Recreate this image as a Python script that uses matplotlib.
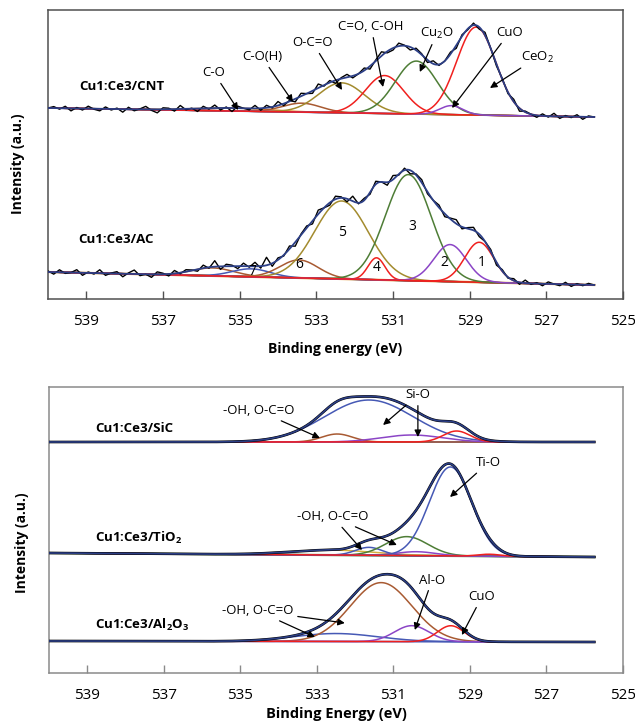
import numpy as np
import matplotlib
matplotlib.use("Agg")
import matplotlib.pyplot as plt

plt.rcParams['font.family'] = ['Open Sans', 'DejaVu Sans']
plt.rcParams['mathtext.fontset'] = 'custom'
plt.rcParams['mathtext.rm'] = 'Open Sans'
plt.rcParams['mathtext.it'] = 'Open Sans'
plt.rcParams['mathtext.bf'] = 'Open Sans:bold'

# ── Data ────────────────────────────────────────────────────────────────────────
# energies in eV, intensities in arbitrary units (stacked, offsets included)
EV_LEFT, EV_RIGHT = 540.0, 525.75
RAW_STEP = 0.15

# Cu1:Ce3/CNT
cnt_baseline = [191, 182]            # at 540 eV / at 525.75 eV
cnt_centers = [535.2, 533.38, 532.34, 531.22, 530.39, 529.48, 528.83]
cnt_heights = [3, 9, 30, 38, 53, 9, 88]
cnt_sigmas = [1.0, 0.5, 0.6, 0.5, 0.55, 0.3, 0.51]
cnt_noise = [0, 1.5, -1, 2, -2.5, 1, -1.5, 2.5, -0.5, -2, 2, -1,
             1, -3, 2, -1.5, 0.5, 3, -1, -3.5, 1.5, 1, -2, 3.5,
             -1, 0.5, -3, 2, -1, 3, -2, 1, -3.5, 2, 0, -1.5,
             3, -2, 2.5, -1, 4, -2, 1, -3, 3, 0, -2.5, 4,
             -1, 2, -3, 1, 3, -2, 0, 2.5, -3, 1, 4, -1.5,
             -2, 3, 0.5, -3, 2, 1, -2.5, 3, -1, 0, 2, -3,
             1.5, -1, 2, -2, 3, 0, -2, 1, -1.5, 2.5, -3, 1,
             0, -2, 2, -1, 3, -2, 1, -1, 2, -2.5, 1, 0]

# Cu1:Ce3/AC  (peaks 7..1 plus a small one at high BE)
ac_baseline = [27, 14]
ac_centers = [535.7, 534.7, 533.45, 532.34, 531.43, 530.6, 529.51, 528.75]
ac_heights = [8, 8, 18, 78, 22, 106, 37, 40]
ac_sigmas = [0.55, 0.5, 0.5, 0.7, 0.22, 0.6, 0.42, 0.38]
ac_noise = [1, -2, 2.5, -1, 0, 3, -2.5, 1, -1, 3.5, -2, 0.5,
            2, -3, 1, 4, -1.5, 0, -3, 2.5, 1, -2, 3, -1,
            2, 0.5, -2, 3, -1, 6, -3, 2, 1, -2.5, 3, -1,
            4, -2, 8, -3, 2, -1, 3, -4, 1, 2, -3, 4,
            0, -2.5, 3, 1, -3, 5, -1, 2, -2, 3, 0, -3,
            4, -1, 2, -3.5, 1, 3, -2, 0, 2.5, -3, 1, 4,
            -2, 1, 3, -2.5, 0, 2, -3, 1.5, -1, 2, -2, 3,
            -1, 1, -2, 2, 0, -1.5, 2, -2, 1, -1, 1.5, 0]

# Cu1:Ce3/SiC
sic_baseline = [231, 231]
sic_centers = [532.47, 531.64, 530.52, 529.35]
sic_heights = [8, 42, 7, 11]
sic_sigmas = [0.4, 1.15, 0.8, 0.35]

# Cu1:Ce3/TiO2
tio_baseline = [120, 116]
tio_centers = [532.6, 531.64, 530.65, 530.4, 529.51, 528.5]
tio_heights = [5, 8, 19, 4, 89, 2]
tio_sigmas = [1.1, 0.35, 0.55, 0.5, 0.55, 0.3]

# Cu1:Ce3/Al2O3
alo_baseline = [32, 31]
alo_centers = [532.5, 531.32, 530.52, 529.5]
alo_heights = [8, 59, 16, 16]
alo_sigmas = [1.09, 0.8, 0.45, 0.35]

# ── Style ───────────────────────────────────────────────────────────────────────
C_ORANGE = '#e0922c'
C_BROWN = '#a85a32'
C_OLIVE = '#a38b2e'
C_RED = '#f0201e'
C_GREEN = '#4e7d36'
C_PURPLE = '#8b45c6'
C_BLUE = '#4659b5'
C_NAVY = '#2c3f86'
C_YELLOW = '#d4b040'

cnt_colors = [C_ORANGE, C_BROWN, C_OLIVE, C_RED, C_GREEN, C_PURPLE, C_RED]
ac_colors = [C_BROWN, C_BLUE, C_BROWN, C_OLIVE, C_RED, C_GREEN, C_PURPLE, C_RED]
sic_colors = [C_BROWN, C_BLUE, C_PURPLE, C_RED]
tio_colors = [C_YELLOW, C_BLUE, C_GREEN, C_PURPLE, C_BLUE, C_RED]
alo_colors = [C_BLUE, C_BROWN, C_PURPLE, C_RED]

ev = np.linspace(EV_LEFT, EV_RIGHT, 800)


def gauss(x, c, h, s):
    return h * np.exp(-0.5 * ((x - c) / s) ** 2)


def baseline_at(x, base):
    return np.interp(x, [EV_RIGHT, EV_LEFT], [base[1], base[0]])


def draw_fit(ax, base, centers, heights, sigmas, colors, noise=None,
             env_lw=1.3, base_color=C_BLUE, measured=False):
    b = baseline_at(ev, base)
    ax.plot(ev, b, color=base_color, lw=1.2, zorder=2)
    total = b.copy()
    for c, h, s, col in zip(centers, heights, sigmas, colors):
        comp = gauss(ev, c, h, s)
        ax.plot(ev, b + comp, color=col, lw=1.1, zorder=3)
        total += comp
    if measured:
        ax.plot(ev, total, color='black', lw=1.9, zorder=4)
    ax.plot(ev, total, color=C_NAVY, lw=env_lw, zorder=5)
    if noise is not None:
        rx = EV_LEFT - RAW_STEP * np.arange(len(noise))
        fit = baseline_at(rx, base) + sum(gauss(rx, c, h, s) for c, h, s
                                          in zip(centers, heights, sigmas))
        ax.plot(rx, fit + np.array(noise), color='black', lw=1.0, zorder=4)


def arrow(ax, text, tip, pos, size=9.5, color='black'):
    ax.annotate(text, xy=tip, xytext=pos, ha='center', va='center',
                fontsize=size, color=color, zorder=6,
                arrowprops=dict(arrowstyle='-|>', color='black', lw=0.9,
                                mutation_scale=10, shrinkA=1, shrinkB=0))


def setup_axes(ax, ylim, spine_col):
    ax.set_xlim(540, 525)
    ax.set_ylim(*ylim)
    ax.set_xticks(np.arange(539, 524, -2))
    ax.set_yticks([])
    ax.tick_params(axis='x', direction='in', length=6, width=1,
                   color=spine_col, pad=11, labelsize=11)
    for sp in ax.spines.values():
        sp.set_color(spine_col)
        sp.set_linewidth(1.1)


fig = plt.figure(figsize=(6.35, 7.22), dpi=100)

# ══════════════════════════════════════════════════════════════════════════════
# Top panel — CNT and AC
# ══════════════════════════════════════════════════════════════════════════════
ax = fig.add_axes([48 / 635, 1 - 299 / 722, 575 / 635, 289 / 722])
setup_axes(ax, (0, 289), '#505050')

draw_fit(ax, cnt_baseline, cnt_centers, cnt_heights, cnt_sigmas, cnt_colors,
         noise=cnt_noise)
ax.plot(ev, baseline_at(ev, ac_baseline), color=C_ORANGE, lw=1.6, zorder=1)
draw_fit(ax, ac_baseline, ac_centers, ac_heights, ac_sigmas, ac_colors,
         noise=ac_noise)

ax.text(539.19, 212, 'Cu1:Ce3/CNT', fontsize=9.5, fontweight='bold', va='center')
ax.text(539.22, 59, 'Cu1:Ce3/AC', fontsize=9.5, fontweight='bold', va='center')

arrow(ax, 'C-O', (535.04, 189), (535.67, 226))
arrow(ax, 'C-O(H)', (533.61, 197), (534.42, 242))
arrow(ax, 'O-C=O', (532.33, 209), (533.09, 256))
arrow(ax, 'C=O, C-OH', (531.26, 212), (531.57, 272))
arrow(ax, 'Cu$_2$O', (530.30, 227), (529.85, 266))
arrow(ax, 'CuO', (529.46, 191), (527.97, 266))
arrow(ax, 'CeO$_2$', (528.47, 211), (527.22, 242))

for lab, x, y in [('1', 528.68, 36), ('2', 529.67, 36), ('3', 530.50, 72),
                  ('4', 531.42, 31), ('5', 532.33, 66), ('6', 533.45, 34),
                  ('7', 534.68, 27)]:
    ax.text(x, y, lab, fontsize=10, ha='center', va='center', zorder=6)

ax.set_xlabel('Binding energy (eV)', fontsize=10, fontweight='bold', labelpad=9)
ax.set_ylabel('Intensity (a.u.)', fontsize=10, fontweight='bold')
ax.yaxis.set_label_coords(-0.04, 0.467)

# ══════════════════════════════════════════════════════════════════════════════
# Bottom panel — SiC, TiO2, Al2O3
# ══════════════════════════════════════════════════════════════════════════════
ax = fig.add_axes([49 / 635, 1 - 673 / 722, 574 / 635, 286 / 722])
setup_axes(ax, (0, 286), '#8a8a8a')

draw_fit(ax, sic_baseline, sic_centers, sic_heights, sic_sigmas, sic_colors,
         env_lw=1.2, measured=True)
ax.plot(ev, baseline_at(ev, tio_baseline), color=C_GREEN, lw=1.6, zorder=1)
draw_fit(ax, tio_baseline, tio_centers, tio_heights, tio_sigmas, tio_colors,
         env_lw=1.2, measured=True)
draw_fit(ax, alo_baseline, alo_centers, alo_heights, alo_sigmas, alo_colors,
         env_lw=1.2, measured=True)

ax.text(538.80, 245, 'Cu1:Ce3/SiC', fontsize=9.5, fontweight='bold', va='center')
ax.text(538.80, 135, r'Cu1:Ce3/TiO$_\mathbf{2}$', fontsize=9.5,
        fontweight='bold', va='center')
ax.text(538.80, 48, r'Cu1:Ce3/Al$_\mathbf{2}$O$_\mathbf{3}$', fontsize=9.5,
        fontweight='bold', va='center')

arrow(ax, '-OH, O-C=O', (532.92, 235), (534.51, 262))
arrow(ax, 'Si-O', (531.27, 248), (530.36, 278))
arrow(ax, 'Si-O', (530.36, 236), (530.36, 278), color='none')
arrow(ax, '-OH, O-C=O', (531.82, 123), (532.58, 156))
arrow(ax, '-OH, O-C=O', (530.91, 128), (532.58, 156), color='none')
arrow(ax, 'Ti-O', (529.52, 176), (528.53, 210))
arrow(ax, '-OH, O-C=O', (532.27, 50), (534.54, 62))
arrow(ax, '-OH, O-C=O', (533.05, 36), (534.54, 62), color='none')
arrow(ax, 'Al-O', (530.44, 43), (529.99, 93))
arrow(ax, 'CuO', (529.21, 38), (528.69, 76))

ax.set_xlabel('Binding Energy (eV)', fontsize=10.5, fontweight='bold', labelpad=3)
ax.set_ylabel('Intensity (a.u.)', fontsize=10, fontweight='bold')
ax.yaxis.set_label_coords(-0.035, 0.455)

fig.savefig('out.png', dpi=100)
